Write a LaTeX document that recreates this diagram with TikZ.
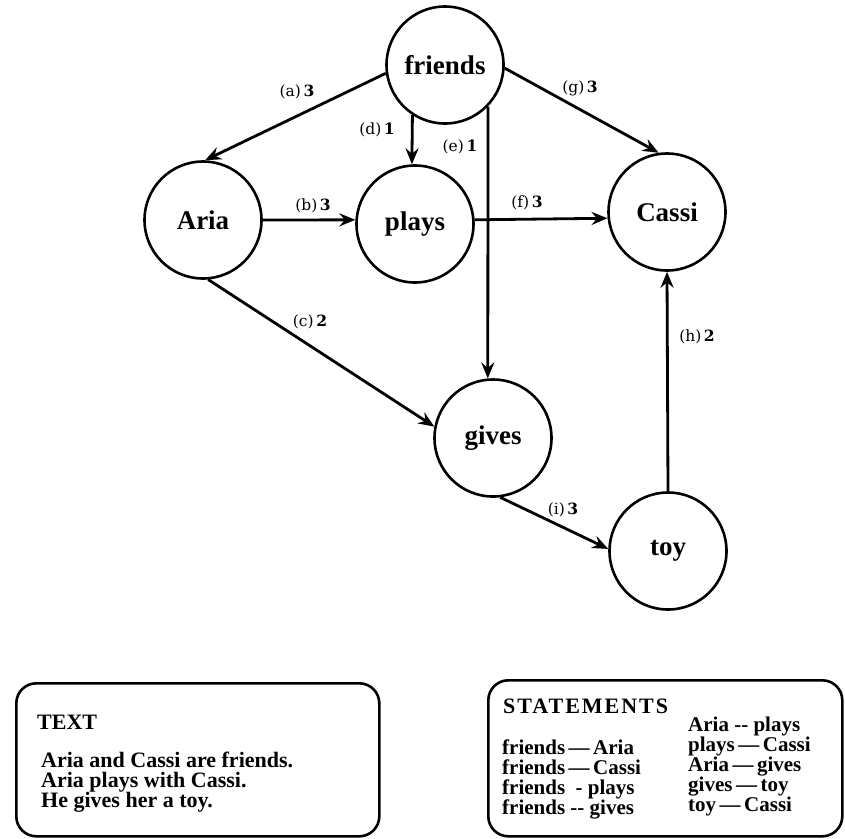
\documentclass[tikz,border=0pt]{standalone}
\usepackage{fontspec}
\setmainfont{Liberation Serif}
\newfontfamily\lblfont{DejaVu Serif}
\usetikzlibrary{arrows.meta}

\tikzset{
  concept/.style={circle, draw, line width=2.6pt, minimum size=117pt, inner sep=0pt,
    font=\bfseries\fontsize{27}{27}\selectfont},
  link/.style={line width=2.8pt, -{Stealth[length=16pt,width=13pt,inset=5.5pt]}},
  wlabel/.style={font=\lblfont\fontsize{15.5}{15.5}\selectfont, inner sep=0pt},
  panel/.style={draw, line width=2.6pt, rounded corners=20pt, inner sep=0pt, anchor=north west},
  headline/.style={font=\bfseries\fontsize{22}{22}\selectfont, anchor=base west, inner sep=0pt},
  bodyline/.style={font=\bfseries\fontsize{22}{22}\selectfont, anchor=base west, inner sep=0pt,
    text height=14pt, text depth=3pt},
  stmt/.style={font=\bfseries\fontsize{21}{21}\selectfont, anchor=base west, inner sep=0pt,
    text height=14pt, text depth=3pt},
}

\begin{document}
\begin{tikzpicture}[x=1pt,y=-1pt]
\useasboundingbox (0,0) rectangle (845,838);

% concept nodes
\node[concept] (friends) at (445,65)  {friends};
\node[concept] (aria)    at (203,220) {Aria};
\node[concept] (plays)   at (415,224) {plays};
\node[concept] (cassi)   at (667,212) {Cassi};
\node[concept] (gives)   at (493,438) {gives};
\node[concept] (toy)     at (668,551) {toy};

% weighted links
\draw[link] (friends.188) -- (aria.88);
\draw[link] (aria.0)      -- (plays.176);
\draw[link] (aria.-85)    -- (gives.169);
\draw[link] (friends.-123) -- (plays.93);
\draw[link] (friends.-44) -- (gives.95);
\draw[link] (plays.4)     -- (cassi.186);
\draw[link] (friends.-3)  -- (cassi.98);
\draw[link] (toy.90)      -- (cassi.-90);
\draw[link] (gives.-83)   -- (toy.178);

% link labels
\node[wlabel] (la) at (297,92)  {(a)\,\textbf{3}};
\node[wlabel] (lb) at (313,206) {(b)\,\textbf{3}};
\node[wlabel] (lc) at (310,322) {(c)\,\textbf{2}};
\node[wlabel] (ld) at (377,130) {(d)\,\textbf{1}};
\node[wlabel] (le) at (460,147) {(e)\,\textbf{1}};
\node[wlabel] (lf) at (527,203) {(f)\,\textbf{3}};
\node[wlabel] (lg) at (580,88)  {(g)\,\textbf{3}};
\node[wlabel] (lh) at (697,337) {(h)\,\textbf{2}};
\node[wlabel] (li) at (563,510) {(i)\,\textbf{3}};

% text panel
\node[panel, minimum width=363pt, minimum height=153pt] (textbox) at (15,682) {};
\node[headline] (texthead) at (37,729) {TEXT};
\node[bodyline] (s1) at (41,767) {Aria and Cassi are friends.};
\node[bodyline] (s2) at (41,787) {Aria plays with Cassi.};
\node[bodyline] (s3) at (41,807) {He gives her a toy.};

% statements panel
\node[panel, minimum width=354pt, minimum height=156pt] (stmtbox) at (487,679) {};
\node[headline, font=\bfseries\fontsize{22}{22}\selectfont\addfontfeature{LetterSpace=9}] (stmthead) at (503,713) {STATEMENTS};
\node[stmt] (p1) at (502,754) {friends\,—\,Aria};
\node[stmt] (p2) at (502,774) {friends\,—\,Cassi};
\node[stmt] (p3) at (502,794) {friends\ \ -\ plays};
\node[stmt] (p4) at (502,814) {friends -{}- gives};
\node[stmt] (q1) at (688,731) {Aria -{}- plays};
\node[stmt] (q2) at (688,751) {plays\,—\,Cassi};
\node[stmt] (q3) at (688,771) {Aria\,—\,gives};
\node[stmt] (q4) at (688,791) {gives\,—\,toy};
\node[stmt] (q5) at (688,811) {toy\,—\,Cassi};
\end{tikzpicture}
\end{document}
